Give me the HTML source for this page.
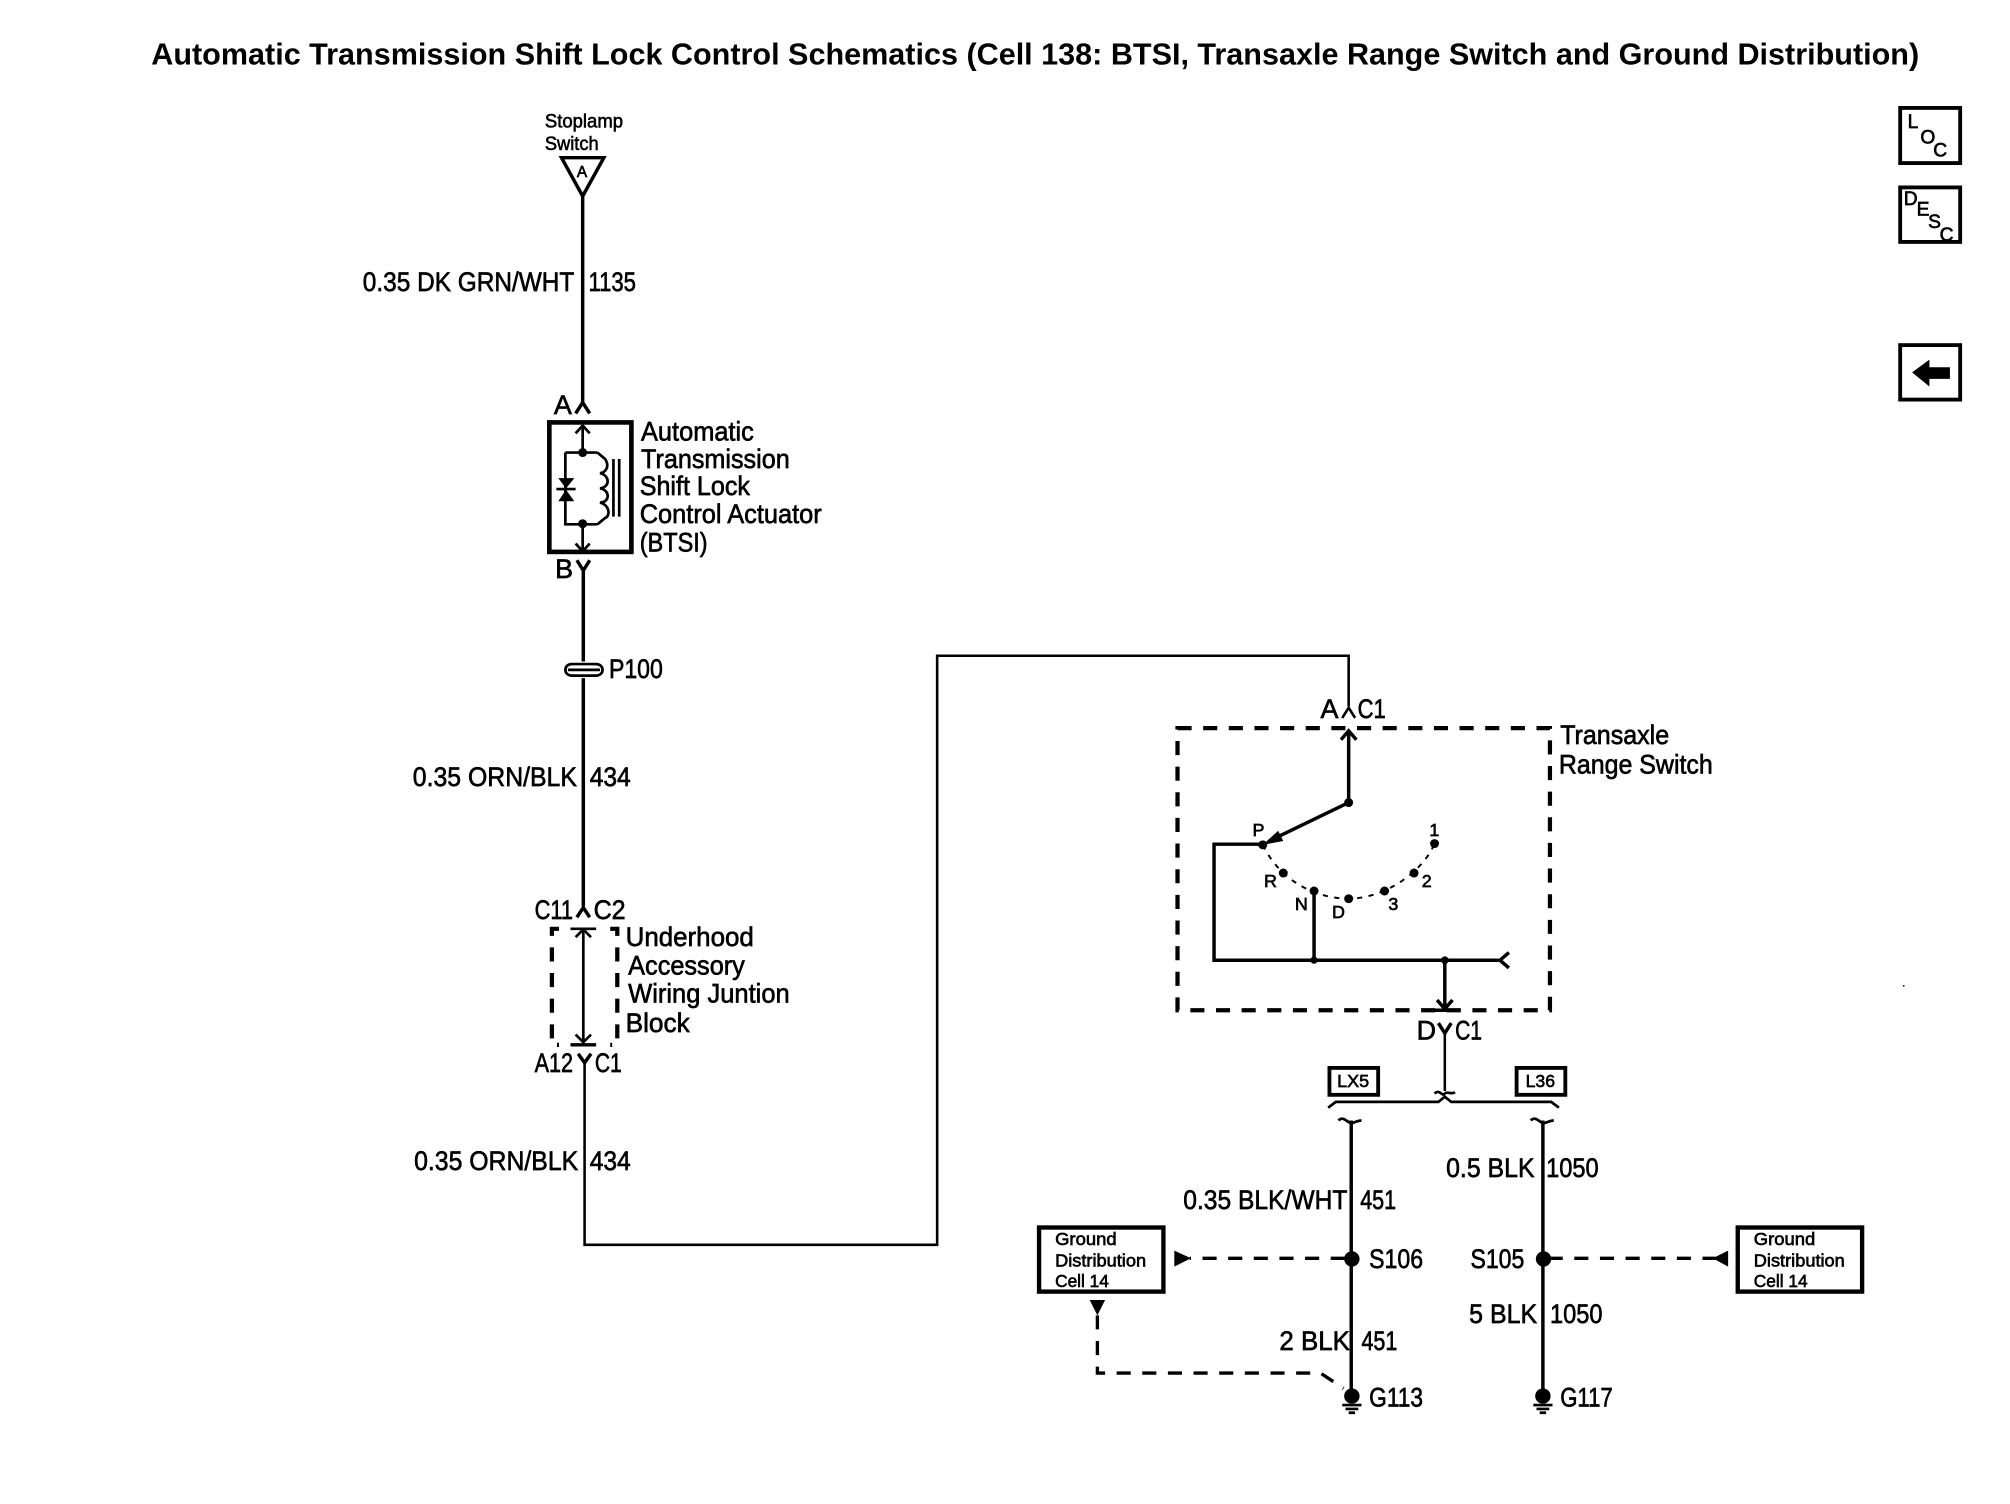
<!DOCTYPE html>
<html><head><meta charset="utf-8"><style>
html,body{margin:0;padding:0;background:#fff;width:2010px;height:1504px;overflow:hidden}
svg{display:block}
text{font-family:"Liberation Sans",sans-serif;fill:#000;stroke:#000;stroke-width:.5;font-size:21px}
.s{font-size:15px;stroke-width:.45}.m{font-size:14px;stroke-width:.5}
.w{fill:none;stroke:#000;stroke-width:2.7}
.n{fill:none;stroke:#000;stroke-width:2}
.t{fill:none;stroke:#000;stroke-width:2.1}
.d{fill:none;stroke:#000;stroke-width:3.300;stroke-dasharray:11 9}
.e{fill:none;stroke:#000;stroke-width:2.6;stroke-dasharray:11 9}
.b{fill:#fff;stroke:#000;stroke-width:3.4}
</style></head><body>
<svg width="2010" height="1504" viewBox="0 0 2010 1504" xmlns="http://www.w3.org/2000/svg">
<rect width="2010" height="1504" fill="#fff"/>
<g transform="scale(1.282)">
<text x="118" y="50.500" textLength="1379" lengthAdjust="spacingAndGlyphs" style="font-size:24px;font-weight:bold;stroke-width:0">Automatic Transmission Shift Lock Control Schematics (Cell 138: BTSI, Transaxle Range Switch and Ground Distribution)</text>

<!-- stoplamp -->
<text class="s" x="425" y="99.500" textLength="61" lengthAdjust="spacingAndGlyphs">Stoplamp</text>
<text class="s" x="425" y="117" textLength="42" lengthAdjust="spacingAndGlyphs">Switch</text>
<path class="w" d="M438 123H471L454.500 153Z"/>
<text class="m" x="450" y="138" style="font-size:12px">A</text>
<path class="w" d="M454.500 153V314M449 322.500L454.500 314L460 322.500"/>
<text x="283" y="227" textLength="165" lengthAdjust="spacingAndGlyphs">0.35 DK GRN/WHT</text>
<text x="459" y="227" textLength="37" lengthAdjust="spacingAndGlyphs">1135</text>
<text x="432" y="323">A</text>

<!-- actuator -->
<rect x="428.500" y="329.500" width="64" height="101" fill="none" stroke="#000" stroke-width="3.600"/>
<path class="t" d="M454.500 332V352M449 338L454.500 332L460 338M441 353H466M441 353V409H466M454.500 409V429M449 424L454.500 430L460 424"/>
<circle cx="454.500" cy="353" r="3.500"/><circle cx="454.500" cy="408.500" r="3.500"/>
<path d="M435.500 373H448L441.500 381ZM435.500 391H448L441.500 382Z"/>
<path class="t" d="M434 381.500H449"/>
<path class="t" d="M466 353L472 358C476 364 472 369 468 369C476 371 476 380 468 381C476 382 476 392 468 392C476 394 476 403 472 404L466 409"/>
<path class="t" d="M478.500 358V403M483 358V403"/>
<text x="500" y="343.500" textLength="88" lengthAdjust="spacingAndGlyphs">Automatic</text>
<text x="500" y="365" textLength="116" lengthAdjust="spacingAndGlyphs">Transmission</text>
<text x="499" y="386" textLength="86" lengthAdjust="spacingAndGlyphs">Shift Lock</text>
<text x="499" y="408" textLength="142" lengthAdjust="spacingAndGlyphs">Control Actuator</text>
<text x="499" y="430" textLength="53" lengthAdjust="spacingAndGlyphs">(BTSI)</text>
<text x="433" y="451">B</text>
<path class="w" d="M450 437L455 445L460 437M455 445V516"/>

<!-- P100 -->
<path class="t" d="M446 518H465C468 518 470 520 470 522.500C470 525 468 527 465 527H446C443 527 441 525 441 522.500C441 520 443 518 446 518Z"/>
<path class="t" d="M443 522.500H468"/>
<text x="475" y="529" textLength="42" lengthAdjust="spacingAndGlyphs">P100</text>
<path class="w" d="M455 529V707M450 715.500L455 708L460 715.500"/>
<text x="322" y="613" textLength="128" lengthAdjust="spacingAndGlyphs">0.35 ORN/BLK</text>
<text x="460" y="613" textLength="32" lengthAdjust="spacingAndGlyphs">434</text>
<text x="417" y="717" textLength="30" lengthAdjust="spacingAndGlyphs">C11</text>
<text x="463" y="717" textLength="25" lengthAdjust="spacingAndGlyphs">C2</text>

<!-- junction block -->
<path class="d" d="M436 724.500H430.500V815H436M476 724.500H481.500V815H476" stroke-dasharray="10 9"/>
<path class="t" d="M445 724.500H465M449 731L455 725L461 731M455 725V813M449 807L455 813L461 807"/>
<path class="w" d="M445 815H465" stroke-width="3"/>
<text x="488" y="738" textLength="100" lengthAdjust="spacingAndGlyphs">Underhood</text>
<text x="490" y="760" textLength="91" lengthAdjust="spacingAndGlyphs">Accessory</text>
<text x="490" y="782" textLength="126" lengthAdjust="spacingAndGlyphs">Wiring Juntion</text>
<text x="488" y="805" textLength="50" lengthAdjust="spacingAndGlyphs">Block</text>
<text x="417" y="836" textLength="30" lengthAdjust="spacingAndGlyphs">A12</text>
<text x="464" y="836" textLength="21" lengthAdjust="spacingAndGlyphs">C1</text>
<path class="w" d="M451 822L456 829L461 822"/>
<path class="n" d="M456 829V971H731V511.500H1052V551M1047 560L1052 552L1057 560"/>
<text x="323" y="912.500" textLength="128" lengthAdjust="spacingAndGlyphs">0.35 ORN/BLK</text>
<text x="460" y="912.500" textLength="32" lengthAdjust="spacingAndGlyphs">434</text>

<!-- range switch -->
<text x="1030" y="560">A</text>
<text x="1059" y="560" textLength="22" lengthAdjust="spacingAndGlyphs">C1</text>
<rect class="d" x="918.500" y="568" width="290.500" height="220"/>
<text x="1217" y="580.500" textLength="85" lengthAdjust="spacingAndGlyphs">Transaxle</text>
<text x="1216" y="603.500" textLength="120" lengthAdjust="spacingAndGlyphs">Range Switch</text>
<path class="w" d="M1052 571V626L990 656M1046 577L1052 570L1058 577"/>
<path d="M985 659L1001 656L997 648Z"/>
<circle cx="1052" cy="626" r="3.500"/>
<path class="w" d="M985 658.500H947V749H1169M1177 743L1170 749L1177 755"/>
<path class="w" d="M1025 695V749M1127 749V786M1121 780L1127 787L1133 780"/>
<path class="w" d="M1115 788H1139" stroke-width="3"/>
<circle cx="1025" cy="749" r="2.800"/><circle cx="1127" cy="749" r="3"/>
<path d="M985 659C1000 690 1030 701 1052 701C1080 701 1110 680 1119 658" fill="none" stroke="#000" stroke-width="1.500" stroke-dasharray="4 5"/>
<circle cx="985" cy="659" r="3.500"/><circle cx="1001" cy="681" r="3.500"/><circle cx="1025" cy="695" r="3.500"/><circle cx="1052" cy="701" r="3.500"/><circle cx="1080" cy="695" r="3.500"/><circle cx="1103" cy="681" r="3.500"/><circle cx="1119" cy="658" r="3.500"/>
<text class="m" x="977" y="652">P</text>
<text class="m" x="986" y="692">R</text>
<text class="m" x="1010" y="710">N</text>
<text class="m" x="1039" y="716">D</text>
<text class="m" x="1083" y="710">3</text>
<text class="m" x="1109" y="692">2</text>
<text class="m" x="1115" y="652">1</text>
<text x="1105" y="811">D</text>
<text x="1135" y="811" textLength="21" lengthAdjust="spacingAndGlyphs">C1</text>
<path class="w" d="M1122 798L1127 806L1132 798"/>
<path class="n" d="M1127 806V851"/>
<path class="t" d="M1119 853C1123 849 1125 856 1127 853C1129 851 1132 854 1135 852"/>

<!-- option bracket -->
<rect x="1037" y="833" width="38" height="21" fill="none" stroke="#000" stroke-width="3"/>
<text class="m" x="1043" y="848" textLength="25" lengthAdjust="spacingAndGlyphs">LX5</text>
<rect x="1183" y="833" width="38" height="21" fill="none" stroke="#000" stroke-width="3"/>
<text class="m" x="1190" y="848" textLength="23" lengthAdjust="spacingAndGlyphs">L36</text>
<path class="t" d="M1036 864L1042 859.500H1122L1127 855.500L1132 859.500H1210L1216 864"/>

<!-- LX5 branch -->
<path class="t" d="M1044 874C1048 870 1051 876 1054 876C1057 876 1058 874 1062 874"/>
<path class="w" d="M1054 874V1088"/>
<text x="923" y="943" textLength="128" lengthAdjust="spacingAndGlyphs">0.35 BLK/WHT</text>
<text x="1061" y="943" textLength="28" lengthAdjust="spacingAndGlyphs">451</text>
<circle cx="1054.500" cy="982" r="6"/>
<text x="1068" y="989" textLength="42" lengthAdjust="spacingAndGlyphs">S106</text>
<path class="e" d="M1049 981.500H928"/>
<path d="M916 975.500L929 981.500L916 988Z"/>
<rect class="b" x="810.500" y="957.500" width="97" height="50"/>
<text class="m" x="823" y="971" textLength="48" lengthAdjust="spacingAndGlyphs">Ground</text>
<text class="m" x="823" y="988" textLength="71" lengthAdjust="spacingAndGlyphs">Distribution</text>
<text class="m" x="823" y="1004" textLength="42" lengthAdjust="spacingAndGlyphs">Cell 14</text>
<path d="M850 1014H862L856 1026Z"/>
<path class="e" d="M856 1026V1071H1030L1048 1083" stroke-dasharray="12 8"/>
<text x="998" y="1053" textLength="55" lengthAdjust="spacingAndGlyphs">2 BLK</text>
<text x="1062" y="1053" textLength="28" lengthAdjust="spacingAndGlyphs">451</text>
<circle cx="1054.500" cy="1089" r="6"/>
<path class="t" d="M1047 1096H1062M1049.500 1099H1059.500M1052 1102H1057" stroke-width="1.600"/>
<text x="1068" y="1097" textLength="42" lengthAdjust="spacingAndGlyphs">G113</text>

<!-- L36 branch -->
<path class="t" d="M1194 874C1198 870 1201 876 1204 876C1207 876 1208 874 1212 874"/>
<path class="w" d="M1203.500 874V1088"/>
<text x="1128" y="918" textLength="69" lengthAdjust="spacingAndGlyphs">0.5 BLK</text>
<text x="1206" y="918" textLength="41" lengthAdjust="spacingAndGlyphs">1050</text>
<circle cx="1204" cy="982" r="6"/>
<text x="1147" y="989" textLength="42" lengthAdjust="spacingAndGlyphs">S105</text>
<path class="e" d="M1208 981.500H1338"/>
<path d="M1348 975.500L1336 981.500L1348 988Z"/>
<rect class="b" x="1355.500" y="957.500" width="97" height="50"/>
<text class="m" x="1368" y="971" textLength="48" lengthAdjust="spacingAndGlyphs">Ground</text>
<text class="m" x="1368" y="988" textLength="71" lengthAdjust="spacingAndGlyphs">Distribution</text>
<text class="m" x="1368" y="1004" textLength="42" lengthAdjust="spacingAndGlyphs">Cell 14</text>
<text x="1146" y="1032" textLength="53" lengthAdjust="spacingAndGlyphs">5 BLK</text>
<text x="1209" y="1032" textLength="41" lengthAdjust="spacingAndGlyphs">1050</text>
<circle cx="1203.500" cy="1089" r="6"/>
<path class="t" d="M1196 1096H1211M1198.500 1099H1208.500M1201 1102H1206" stroke-width="1.600"/>
<text x="1217" y="1097" textLength="41" lengthAdjust="spacingAndGlyphs">G117</text>

<!-- right icons -->
<rect x="1482.200" y="84.200" width="46.800" height="43" fill="none" stroke="#000" stroke-width="3"/>
<text class="m" x="1488" y="100" style="font-size:15px">L</text>
<text class="m" x="1498" y="112" style="font-size:15px">O</text>
<text class="m" x="1508" y="122" style="font-size:15px">C</text>
<rect x="1482.200" y="146.200" width="46.800" height="42.500" fill="none" stroke="#000" stroke-width="3"/>
<text class="m" x="1485" y="160" style="font-size:15px">D</text>
<text class="m" x="1495" y="168" style="font-size:15px">E</text>
<text class="m" x="1504" y="178" style="font-size:15px">S</text>
<text class="m" x="1513" y="188" style="font-size:15px">C</text>
<rect x="1482.200" y="269.200" width="46.800" height="42.500" fill="none" stroke="#000" stroke-width="3"/>
<path d="M1491.500 290.500L1505 280.500V286.500H1521V295.500H1505V301.500Z"/>
<circle cx="1485" cy="769" r=".7"/>
</g>
</svg>
</body></html>
